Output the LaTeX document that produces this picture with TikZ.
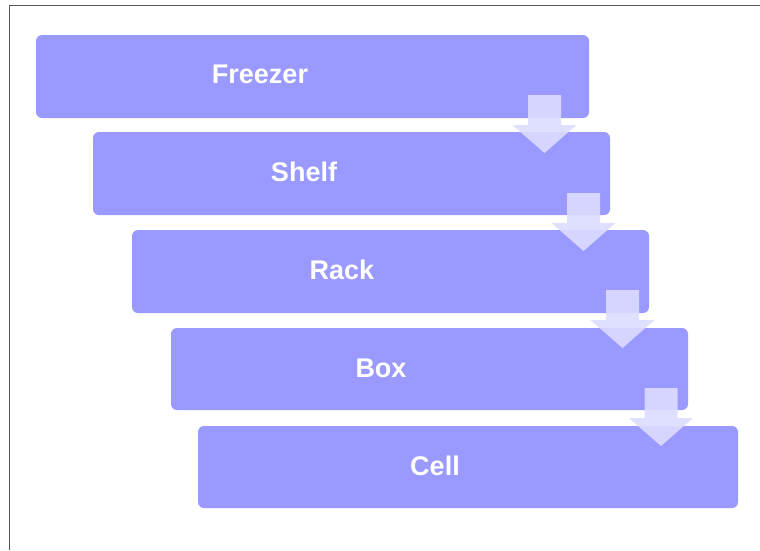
\documentclass[tikz,border=0pt]{standalone}
\usepackage{fontspec}
\setmainfont{Liberation Sans}
\usepackage{tikz}
\usetikzlibrary{calc}
\definecolor{boxblue}{RGB}{153,153,255}
\definecolor{arrowblue}{RGB}{220,220,255}
\definecolor{framegray}{RGB}{85,85,85}
\tikzset{
	stepbox/.style={rectangle, rounded corners=6pt, fill=boxblue, draw=none, inner sep=0pt},
	steptext/.style={text=white, font=\fontsize{27}{30}\selectfont\bfseries, inner sep=0pt},
	steparrow/.style={fill=arrowblue, fill opacity=0.9, draw=none}
}
% shaft centre x, shaft top y
\def\downarrow(#1,#2){\fill[steparrow] (#1-16.5, #2) -- (#1+16.5, #2) -- (#1+16.5, #2+30) -- (#1+32, #2+30) -- (#1, #2+58) -- (#1-32, #2+30) -- (#1-16.5, #2+30) -- cycle;}

\begin{document}
\begin{tikzpicture}[x=1pt, y=-1pt]
		%%%%% START %%%%%
		\useasboundingbox (0, 0) rectangle (760, 550);
		
		\draw[line width=1.8pt, color=framegray] (9.5, 550) -- (9.5, 5.5) -- (760, 5.5);
		
		\node[stepbox, minimum width=553pt, minimum height=83pt] (freezer) at (312.5, 76.5) {};
		\node[stepbox, minimum width=517pt, minimum height=83pt] (shelf) at (351.5, 173.5) {};
		\node[stepbox, minimum width=517pt, minimum height=83pt] (rack) at (390.5, 271.5) {};
		\node[stepbox, minimum width=517pt, minimum height=82pt] (box) at (429.5, 369) {};
		\node[stepbox, minimum width=540pt, minimum height=82pt] (cell) at (468, 467) {};
		
		\node[steptext] (freezertext) at (260, 74) {Freezer};
		\node[steptext] (shelftext) at (304, 172) {Shelf};
		\node[steptext] (racktext) at (342, 270) {Rack};
		\node[steptext] (boxtext) at (381, 368) {Box};
		\node[steptext] (celltext) at (435, 465.5) {Cell};
		
		\downarrow(544.5, 95)
		\downarrow(583.5, 193)
		\downarrow(622.5, 290)
		\downarrow(661, 388)
		
		%%%%% END %%%%%
	\end{tikzpicture}
\end{document}
